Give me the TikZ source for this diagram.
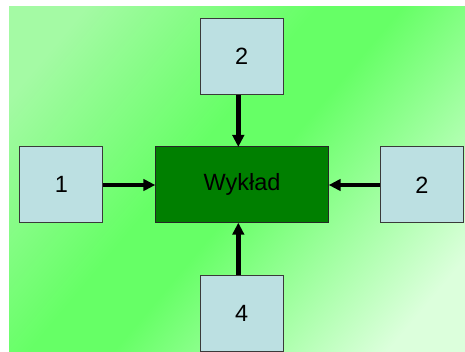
\documentclass[tikz,border=0pt]{standalone}
\usepackage{fontspec}
\setmainfont{Liberation Sans}
\usetikzlibrary{arrows.meta}
\definecolor{bgA}{HTML}{A4FAA4}
\definecolor{bgB}{HTML}{66FF66}
\definecolor{bgC}{HTML}{DCFFDC}
\definecolor{boxfill}{HTML}{BCE0E2}
\definecolor{boxline}{HTML}{3A3A3A}
\definecolor{centerfill}{HTML}{007F00}
\pgfdeclarehorizontalshading{bgshade}{100bp}{color(0bp)=(bgA); color(22bp)=(bgA); color(44bp)=(bgB); color(52bp)=(bgB); color(78bp)=(bgC); color(100bp)=(bgC)}
\tikzset{
  sidebox/.style={draw=boxline, line width=1pt, fill=boxfill, minimum width=83pt, minimum height=75.7pt, inner sep=0pt, font=\fontsize{23.5}{26}\selectfont},
  centerbox/.style={draw=black!85, line width=1pt, fill=centerfill, minimum width=173.4pt, minimum height=75.7pt, inner sep=0pt, font=\fontsize{23.5}{26}\selectfont},
  conn/.style={line width=4.5pt, -{Triangle[length=12pt,width=11.5pt]}, shorten >=-0.5pt}
}
\begin{document}
\begin{tikzpicture}[x=1pt,y=-1pt]
\useasboundingbox (0,0) rectangle (465,351);
\begin{scope}
\clip (0,0) rectangle (465,351);
\shade[shading=bgshade, shading angle=-40] (9,6) rectangle (465,351);
\node[centerbox] (c) at (242,184.8) {Wykład};
\node[sidebox] (t) at (241.7,56.3) {2};
\node[sidebox] (l) at (61.3,184.8) {1};
\node[sidebox] (r) at (422,184.8) {2};
\node[sidebox] (b) at (241.7,313.5) {4};
\draw[conn] (t.south -| 238.3,0) -- (c.north -| 238.3,0);
\draw[conn] (b.north -| 238.3,0) -- (c.south -| 238.3,0);
\draw[conn] (l.east |- 0,185) -- (c.west |- 0,185);
\draw[conn] (r.west |- 0,185) -- (c.east |- 0,185);
\end{scope}
\end{tikzpicture}
\end{document}
